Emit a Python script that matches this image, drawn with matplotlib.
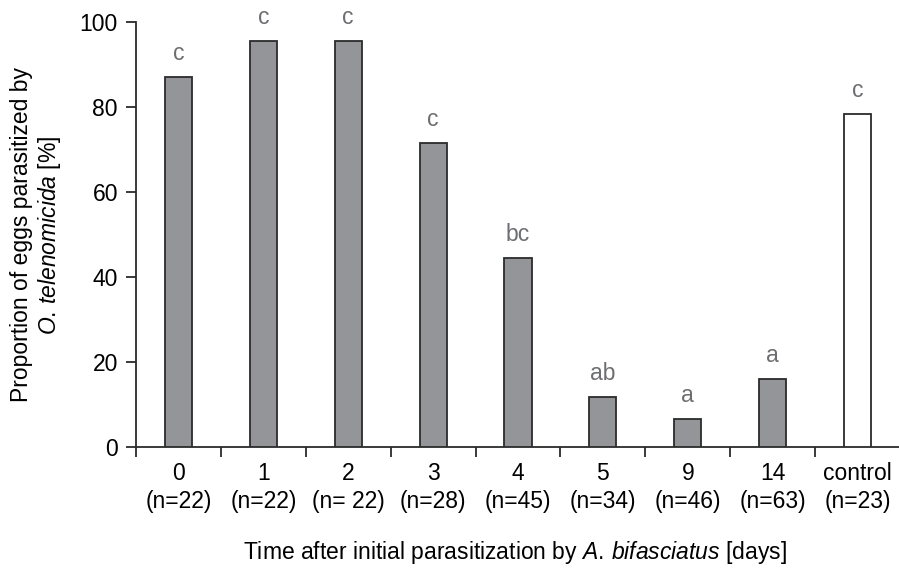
import matplotlib
matplotlib.use("Agg")
import matplotlib.pyplot as plt
import numpy as np

# ── Data ─────────────────────────────────────────────────────────────────────
days    = ["0", "1", "2", "3", "4", "5", "9", "14", "control"]
n_eggs  = ["(n=22)", "(n=22)", "(n= 22)", "(n=28)", "(n=45)", "(n=34)", "(n=46)", "(n=63)", "(n=23)"]
values  = [87.1, 95.5, 95.5, 71.5, 44.5, 11.8, 6.6, 16.0, 78.4]
letters = ["c", "c", "c", "c", "bc", "ab", "a", "a", "c"]
fills   = ["#939598"] * 8 + ["#ffffff"]

# ── Style ────────────────────────────────────────────────────────────────────
plt.rcParams["font.family"] = ["Liberation Sans", "DejaVu Sans"]
plt.rcParams["mathtext.fontset"] = "custom"
plt.rcParams["mathtext.rm"] = "Liberation Sans"
plt.rcParams["mathtext.it"] = "Liberation Sans:italic"

FS = 16.5
EDGE = "#2b2b2b"

fig = plt.figure(figsize=(8.99, 5.72), dpi=100)
ax = fig.add_axes([136 / 899, 1 - 447 / 572, 764 / 899, 425 / 572])

x = np.arange(len(days))
ax.bar(x, values, width=0.32, color=fills, edgecolor=EDGE, linewidth=1.3, zorder=3)

for xi, v, lab in zip(x, values, letters):
    ax.text(xi, v + 2.8, lab, ha="center", va="bottom", fontsize=FS, color="#6d6e71")

ax.set_xlim(-0.5, len(days) - 0.5)
ax.set_ylim(0, 100)
ax.set_yticks([0, 20, 40, 60, 80, 100])

# category boundaries get the visible ticks, centres get the labels
ax.set_xticks(np.arange(len(days) + 1) - 0.5, minor=True)
ax.set_xticks(x)
ax.set_xticklabels([f"{d}\n{n}" for d, n in zip(days, n_eggs)], fontsize=FS, linespacing=1.25)
ax.tick_params(axis="x", which="major", length=0, pad=11)
ax.tick_params(axis="x", which="minor", direction="out", length=7, width=1.3, color=EDGE)
ax.tick_params(axis="y", direction="out", length=7, width=1.3, color=EDGE, labelsize=FS, pad=6)

for s in ("top", "right"):
    ax.spines[s].set_visible(False)
for s in ("left", "bottom"):
    ax.spines[s].set_color(EDGE)
    ax.spines[s].set_linewidth(1.3)

fig.text(22 / 899, 1 - 235 / 572, "Proportion of eggs parasitized by",
         rotation=90, ha="center", va="center", fontsize=FS)
fig.text(50 / 899, 1 - 235 / 572, r"$\it{O.\,telenomicida}$ [%]",
         rotation=90, ha="center", va="center", fontsize=FS)
fig.text(515 / 899, 1 - 552 / 572,
         r"Time after initial parasitization by $\it{A.\,bifasciatus}$ [days]",
         ha="center", va="center", fontsize=FS)

plt.savefig("out.png", dpi=100, facecolor="white")
plt.close()
